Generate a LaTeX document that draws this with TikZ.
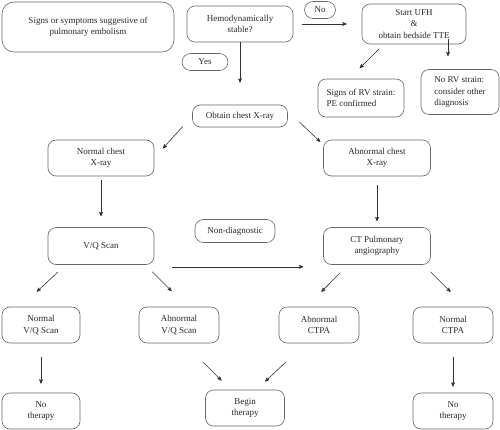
\documentclass[tikz,border=0pt]{standalone}
\usepackage{fontspec}
\setmainfont{Liberation Serif}
\usetikzlibrary{arrows}

\begin{document}
\begin{tikzpicture}[->,>=stealth',
    x=1pt, y=-1pt,
    box/.style={rectangle,
        rounded corners=8pt,
        draw=black!60,
        line width=0.6pt,
        text=black!85,
        font=\fontsize{9}{11.5}\selectfont,
        align=center,
        inner sep=2pt},
    pill/.style={box, rounded corners=8.5pt}]

    \useasboundingbox (0,0) rectangle (500,430);

    %top row
    \node[box,
          rounded corners=12pt,
          minimum width = 172pt,
          minimum height = 50pt
          ] (signs) at (88,27) {Signs or symptoms suggestive of\\pulmonary embolism};
    \node[box,
          minimum width = 106pt,
          minimum height = 36pt
          ] (hemo) at (240,24) {Hemodynamically\\stable?};
    \node[pill,
          minimum width = 31pt,
          minimum height = 17pt
          ] (no) at (320,10) {No};
    \node[box,
          minimum width = 104pt,
          minimum height = 40pt
          ] (ufh) at (414,24) {Start UFH\\\&\\obtain bedside TTE};
    \node[pill,
          minimum width = 46pt,
          minimum height = 17pt
          ] (yes) at (205,62) {Yes};

    \node[box,
          minimum width = 86pt,
          minimum height = 38pt,
          align = left
          ] (rv) at (361,98) {Signs of RV strain:\\PE confirmed};
    \node[box,
          minimum width = 78pt,
          minimum height = 45pt,
          align = left
          ] (norv) at (460,92) {No RV strain:\\consider other\\diagnosis};
    \node[box,
          minimum width = 95pt,
          minimum height = 22pt
          ] (xray) at (240,116) {Obtain chest X-ray};

    %chest x-ray
    \node[box,
          minimum width = 106pt,
          minimum height = 36pt
          ] (normal) at (101,158) {Normal chest\\X-ray};
    \node[box,
          minimum width = 107pt,
          minimum height = 36pt
          ] (abn) at (377,158) {Abnormal chest\\X-ray};

    %scans
    \node[box,
          minimum width = 106pt,
          minimum height = 37pt
          ] (vq) at (101,246) {V/Q Scan};
    \node[pill,
          minimum width = 80pt,
          minimum height = 23pt
          ] (nondiag) at (235,231) {Non-diagnostic};
    \node[box,
          minimum width = 107pt,
          minimum height = 37pt
          ] (ct) at (377,246) {CT Pulmonary\\angiography};

    %results
    \node[box,
          minimum width = 78pt,
          minimum height = 36pt
          ] (nvq) at (41,325) {Normal\\V/Q Scan};
    \node[box,
          minimum width = 80pt,
          minimum height = 36pt
          ] (avq) at (179,325) {Abnormal\\V/Q Scan};
    \node[box,
          minimum width = 80pt,
          minimum height = 36pt
          ] (actpa) at (319,325) {Abnormal\\CTPA};
    \node[box,
          minimum width = 80pt,
          minimum height = 36pt
          ] (nctpa) at (453,325) {Normal\\CTPA};

    %therapy
    \node[box,
          minimum width = 78pt,
          minimum height = 36pt
          ] (nothl) at (41,411) {No\\therapy};
    \node[box,
          minimum width = 79pt,
          minimum height = 36pt
          ] (begin) at (245,408) {Begin\\therapy};
    \node[box,
          minimum width = 80pt,
          minimum height = 36pt
          ] (nothr) at (453,411) {No\\therapy};

    \path[every edge/.append style={draw=black!80, line width=0.6pt}]
    %top
    (hemo) edge [shorten >=22pt] (xray)
    (hemo) edge [shorten <=9pt, shorten >=15pt] (ufh)
    (ufh.214) edge [shorten <=7pt, shorten >=15pt] (rv.122)
    ([xshift=34pt]ufh.south) edge [shorten <=-5pt, shorten >=13pt] ([xshift=-12pt]norv.north)
    (xray.west) edge [shorten <=14pt, shorten >=13pt] (normal.east)
    (xray.6) edge [shorten <=16pt, shorten >=4pt] (abn.166)
    %middle
    (normal) edge [shorten <=4pt, shorten >=11pt] (vq)
    (abn) edge [shorten <=9pt, shorten >=6pt] (ct)
    ([yshift=-2pt]vq.south east) edge [shorten <=18pt, shorten >=20pt] ([yshift=-2pt]ct.south west)
    (vq.208) edge [shorten <=11pt, shorten >=22pt] (nvq.138)
    (vq.337) edge [shorten <=10pt, shorten >=22pt] (avq.66)
    (ct.213) edge [shorten <=11pt, shorten >=21pt] (actpa.124)
    (ct.338) edge [shorten <=10pt, shorten >=21pt] (nctpa.56)
    %bottom
    (nvq) edge [shorten <=14pt, shorten >=9pt] (nothl)
    (nctpa) edge [shorten <=14pt, shorten >=6pt] (nothr)
    (avq.286) edge [shorten <=27pt, shorten >=13pt] (begin.128)
    (actpa.234) edge [shorten <=27pt, shorten >=12pt] (begin.58) ;

\end{tikzpicture}
\end{document}
